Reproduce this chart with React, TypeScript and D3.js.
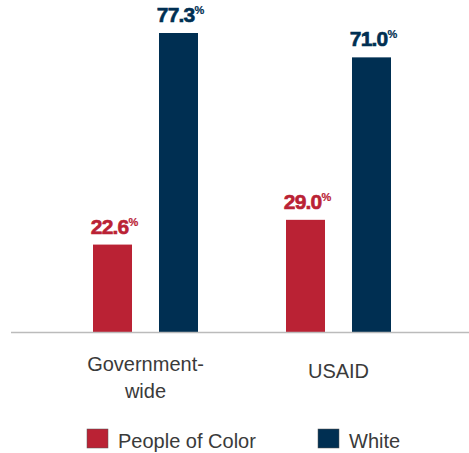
import React from "react";
import * as d3 from "d3";

const categories = ["Government-wide", "USAID"];
const categoryLines = [["Government-", "wide"], ["USAID"]];
const seriesNames = ["People of Color", "White"];
const peopleOfColor = [22.6, 29.0];
const white = [77.3, 71.0];
const colors = ["#BA2234", "#002F52"];

const W = 469;
const H = 453;
const baseY = 332;

export default function App() {
  const x0 = d3.scaleBand<string>().domain(categories).range([49, 435]).paddingInner(0).paddingOuter(0);
  const x1 = d3.scaleBand<string>().domain(seriesNames).range([44, 149]).paddingInner(0.409).paddingOuter(0);
  const y = d3.scaleLinear().domain([0, 77.3]).range([baseY, 33]);
  const values = [peopleOfColor, white];
  const font = "'Liberation Sans', Arial, sans-serif";

  return (
    <svg width={W} height={H} style={{ position: "absolute", left: 0, top: 0 }} fontFamily={font}>
      <rect width={W} height={H} fill="#fff" />
      {categories.map((c, ci) => (
        <g key={c} transform={`translate(${x0(c)},0)`}>
          {seriesNames.map((s, si) => {
            const v = values[si][ci];
            const bx = x1(s)!;
            const bw = x1.bandwidth();
            return (
              <g key={s}>
                <rect x={bx} y={y(v)} width={bw} height={baseY - y(v)} fill={colors[si]} />
                <text
                  x={bx + bw / 2 + 2}
                  y={y(v) - 11}
                  textAnchor="middle"
                  fill={colors[si]}
                  stroke={colors[si]}
                  strokeWidth={0.6}
                  fontWeight="bold"
                  fontSize={21}
                  letterSpacing={-0.8}
                >
                  {v.toFixed(1)}
                  <tspan fontSize={11} dy={-8} letterSpacing={0} strokeWidth={0.2}>%</tspan>
                </text>
              </g>
            );
          })}
          {categoryLines[ci].map((ln, li) => (
            <text
              key={li}
              x={x0.bandwidth() / 2}
              y={(categoryLines[ci].length > 1 ? 371 : 378) + li * 27}
              textAnchor="middle"
              fontSize={20}
              fill="#3a3a3a"
            >
              {ln}
            </text>
          ))}
        </g>
      ))}
      <line x1={11} x2={469} y1={baseY + 0.5} y2={baseY + 0.5} stroke="#bbb" strokeWidth={1.5} />
      {seriesNames.map((s, si) => {
        const lx = si === 0 ? 87 : 318;
        return (
          <g key={s}>
            <rect x={lx} y={429} width={21} height={19} fill={colors[si]} stroke="#555" strokeWidth={0.5} />
            <text x={lx + 31} y={448} fontSize={20} fill="#3a3a3a">{s}</text>
          </g>
        );
      })}
    </svg>
  );
}
